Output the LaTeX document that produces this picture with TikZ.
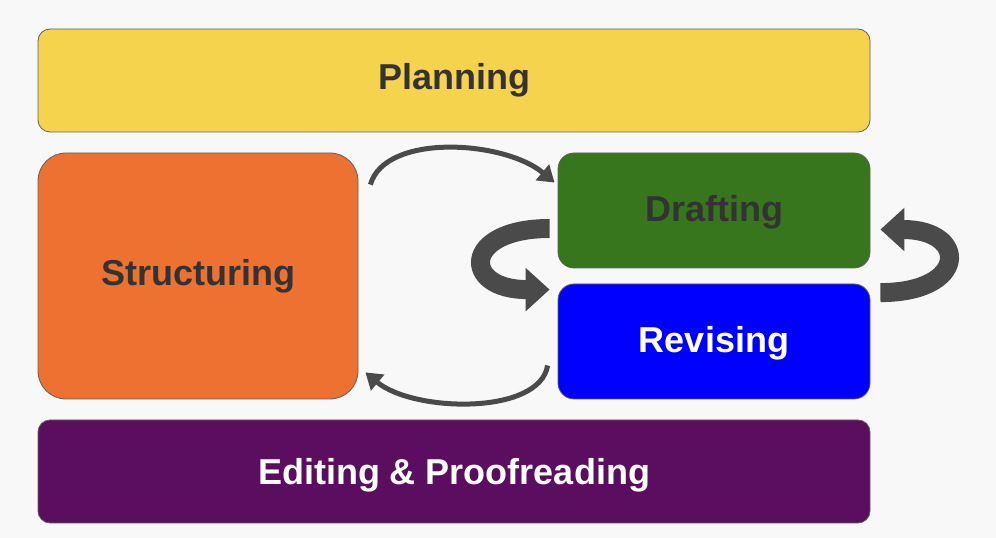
\documentclass[tikz,border=0pt]{standalone}
\usepackage{fontspec}
\setmainfont{Liberation Sans}
\usetikzlibrary{arrows.meta}
\definecolor{page-bg}{HTML}{F8F8F8}
\definecolor{box-line}{HTML}{5F5F5F}
\definecolor{dark-text}{HTML}{333333}
\definecolor{arrow-gray}{HTML}{4A4A4A}
\definecolor{plan-yellow}{HTML}{F6D34C}
\definecolor{struct-orange}{HTML}{ED7231}
\definecolor{draft-green}{HTML}{38761D}
\definecolor{revise-blue}{HTML}{0000FF}
\definecolor{edit-purple}{HTML}{5B0E5F}
\tikzset{
    stage-box/.style = {draw=box-line, line width=0.8pt, rectangle, rounded corners=12pt, inner sep=0pt, text=dark-text, font=\bfseries\fontsize{36}{40}\selectfont},
    wide-box/.style = {stage-box, minimum width=832pt, minimum height=103pt},
    small-box/.style = {stage-box, rounded corners=16pt, minimum width=312pt, minimum height=115pt},
    cycle-arrow/.style = {draw=arrow-gray, line width=5pt, -{Triangle[length=16pt,width=20pt]}},
    curl-arrow/.style = {draw=arrow-gray, line width=19pt, -{Triangle[length=24pt,width=42pt]}},
}

\begin{document}
\begin{tikzpicture}[x=1pt, y=1pt]
\fill[page-bg] (0,0) rectangle (996,538);
\useasboundingbox (0,0) rectangle (996,538);

% the five stages
\node[wide-box, fill=plan-yellow] (planning) at (454,457.5) {Planning};
\node[stage-box, fill=struct-orange, rounded corners=28pt, minimum width=320pt, minimum height=246pt] (structuring) at (198,262) {Structuring};
\node[small-box, fill=draft-green, text depth=4pt] (drafting) at (714,327.5) {Drafting};
\node[small-box, fill=revise-blue, text=white, text depth=4pt] (revising) at (714,196.5) {Revising};
\node[wide-box, fill=edit-purple, text=white, text depth=0pt] (editing) at (454,66.5) {Editing \& Proofreading};

% arrows between the stages
\draw[cycle-arrow] ([shift={(12,-32)}]structuring.north east) .. controls +(15,52) and +(-50,42) .. ([shift={(-3,-30)}]drafting.north west);
\draw[cycle-arrow] ([shift={(-10,-24)}]revising.west) .. controls +(-8,-50) and +(48,-40) .. ([shift={(7,27)}]structuring.south east);
\draw[curl-arrow] ([shift={(-8,-18)}]drafting.west) .. controls +(-88,0) and +(-88,0) .. ([shift={(-8,-6)}]revising.north west);
\draw[curl-arrow] ([shift={(10,-9)}]revising.north east) .. controls +(88,0) and +(88,0) .. ([shift={(10,-19)}]drafting.east);
\end{tikzpicture}
\end{document}
